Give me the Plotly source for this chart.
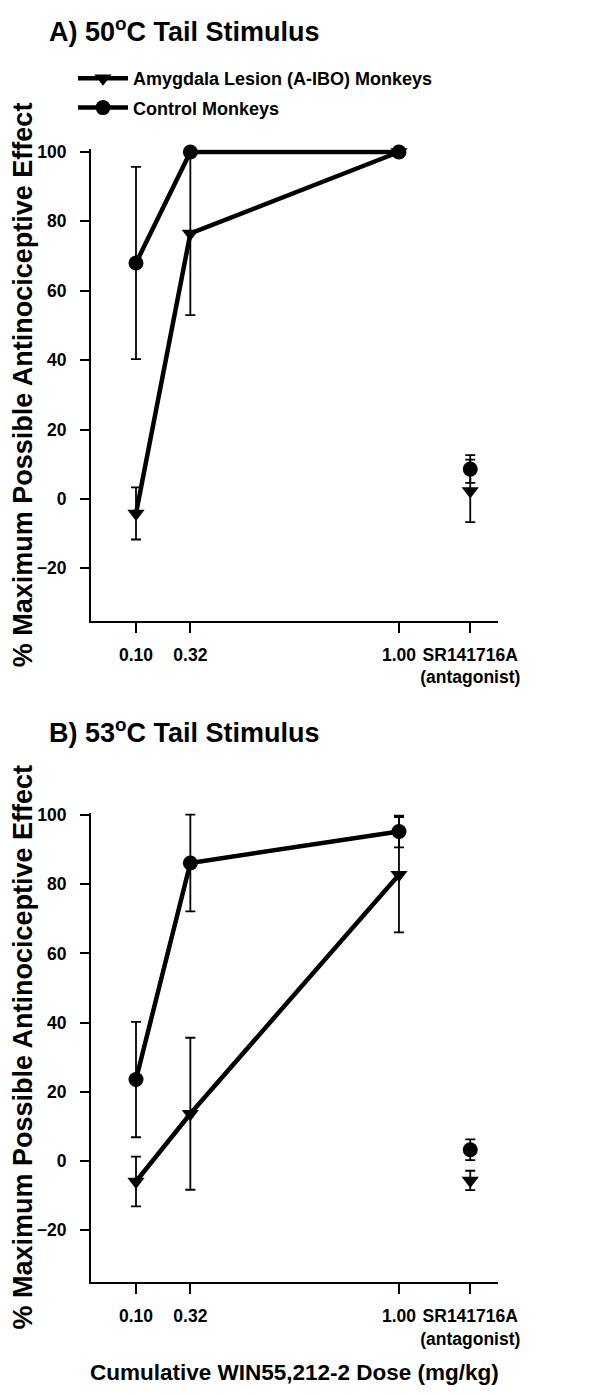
import plotly.graph_objects as go

# ---------------- data ----------------
dose_labels = ["0.10", "0.32", "1.00"]
antagonist_label = "SR141716A<br>(antagonist)"
# placement of each dose on the original (non-uniform) dose axis
dose_axis = [0.10, 0.286, 1.00]
antagonist_axis = 1.244

# Panel A: 50 C tail stimulus
a_lesion = [-4.2, 76.5, 100.0]
a_lesion_err = [7.5, 23.5, 0.0]
a_lesion_sr = [2.3]
a_lesion_sr_err = [9.0]
a_control = [68.0, 100.0, 100.0]
a_control_err = [27.7, 0.0, 0.0]
a_control_sr = [8.6]
a_control_sr_err = [4.0]

# Panel B: 53 C tail stimulus
b_lesion = [-6.0, 13.6, 82.8]
b_lesion_err = [7.2, 22.0, 16.7]
b_lesion_sr = [-5.7]
b_lesion_sr_err = [2.8]
b_control = [23.5, 86.2, 95.3]
b_control_err = [16.7, 14.0, 4.6]
b_control_sr = [3.2]
b_control_sr_err = [3.0]

series_names = ["Amygdala Lesion (A-IBO) Monkeys", "Control Monkeys"]
y_ticks = [-20, 0, 20, 40, 60, 80, 100]

# ---------------- styling ----------------
FONT = "Liberation Sans, Arial, sans-serif"
BLACK = "black"

# page is 606x1395; browser body has an 8px margin
OFF = 8
W, H = 606 - 2 * OFF, 1395 - 2 * OFF


def px(x):
    return (x - OFF) / W


def py(y):
    return 1 - (y - OFF) / H


fig = go.Figure()


def add_series(xa, ya, y, err, y_sr, err_sr, name, symbol, show):
    fig.add_trace(go.Scatter(
        x=dose_axis, y=y, xaxis=xa, yaxis=ya, mode="lines+markers",
        name=name, legendgroup=name, showlegend=show,
        line=dict(color=BLACK, width=4.5),
        marker=dict(symbol=symbol, size=15, color=BLACK),
        error_y=dict(type="data", array=err, visible=True, color=BLACK,
                     thickness=1.8, width=5),
        cliponaxis=False,
    ))
    fig.add_trace(go.Scatter(
        x=[antagonist_axis], y=y_sr, xaxis=xa, yaxis=ya, mode="markers",
        name=name, legendgroup=name, showlegend=False,
        marker=dict(symbol=symbol, size=15, color=BLACK),
        error_y=dict(type="data", array=err_sr, visible=True, color=BLACK,
                     thickness=1.8, width=5),
        cliponaxis=False,
    ))


add_series("x", "y", a_lesion, a_lesion_err, a_lesion_sr, a_lesion_sr_err,
           series_names[0], "triangle-down", True)
add_series("x", "y", a_control, a_control_err, a_control_sr, a_control_sr_err,
           series_names[1], "circle", True)
add_series("x2", "y2", b_lesion, b_lesion_err, b_lesion_sr, b_lesion_sr_err,
           series_names[0], "triangle-down", False)
add_series("x2", "y2", b_control, b_control_err, b_control_sr, b_control_sr_err,
           series_names[1], "circle", False)

tickvals_x = dose_axis + [antagonist_axis]
ticktext_x = dose_labels + [antagonist_label]

xax = dict(range=[-0.054, 1.340], showgrid=False, zeroline=False,
           showline=True, linecolor=BLACK, linewidth=2, automargin=False,
           ticks="outside", ticklen=10, tickwidth=2, tickcolor=BLACK,
           tickvals=tickvals_x, ticktext=ticktext_x, tickangle=0,
           tickfont=dict(family=FONT, size=17.5, color=BLACK, weight="bold"),
           ticklabelstandoff=7)
yax = dict(range=[-35.1, 100.8], showgrid=False, zeroline=False,
           showline=True, linecolor=BLACK, linewidth=2, automargin=False,
           ticks="outside", ticklen=9, tickwidth=2, tickcolor=BLACK,
           tickvals=y_ticks,
           tickfont=dict(family=FONT, size=17.5, color=BLACK, weight="bold"),
           ticklabelstandoff=10,
           title=dict(text="% Maximum Possible Antinociceptive Effect",
                      font=dict(family=FONT, size=27, color=BLACK, weight="bold"),
                      standoff=6))

fig.update_layout(
    template="none",
    width=W, height=H,
    margin=dict(l=0, r=0, t=0, b=0, autoexpand=False),
    paper_bgcolor="white", plot_bgcolor="white",
    font=dict(family=FONT, color=BLACK, weight="bold"),
    xaxis=dict(xax, domain=[px(91), px(498.3)], anchor="y"),
    yaxis=dict(yax, domain=[py(620.7), py(149.2)], anchor="x"),
    xaxis2=dict(xax, domain=[px(91), px(498.3)], anchor="y2"),
    yaxis2=dict(yax, domain=[py(1282), py(812.5)], anchor="x2"),
    showlegend=True,
    legend=dict(x=px(73), y=py(60), xanchor="left", yanchor="top",
                bgcolor="rgba(0,0,0,0)", itemwidth=50,
                font=dict(family=FONT, size=18, color=BLACK, weight="bold"),
                tracegroupgap=3, traceorder="grouped"),
    annotations=[
        dict(text="A) 50<sup>o</sup>C Tail Stimulus", xref="paper", yref="paper",
             x=px(47), y=py(30), xanchor="left", yanchor="middle",
             showarrow=False,
             font=dict(family=FONT, size=27, color=BLACK, weight="bold")),
        dict(text="B) 53<sup>o</sup>C Tail Stimulus", xref="paper", yref="paper",
             x=px(47), y=py(731), xanchor="left", yanchor="middle",
             showarrow=False,
             font=dict(family=FONT, size=27, color=BLACK, weight="bold")),
        dict(text="Cumulative WIN55,212-2 Dose (mg/kg)", xref="paper", yref="paper",
             x=px(294.5), y=0, xanchor="center", yanchor="bottom",
             showarrow=False,
             font=dict(family=FONT, size=22.5, color=BLACK, weight="bold")),
    ],
)

fig.write_html("out.html")
